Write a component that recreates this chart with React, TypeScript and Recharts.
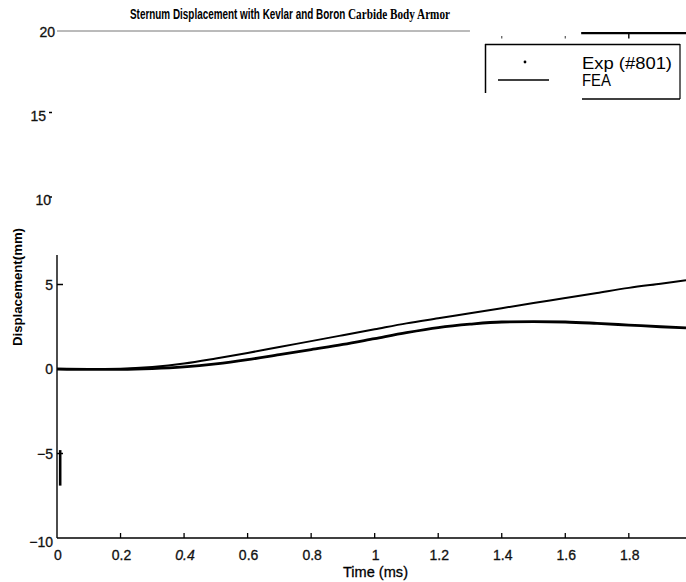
import React from 'react';
import { LineChart, Line, XAxis, YAxis, ReferenceLine, Legend } from 'recharts';

const times = [0, 0.1, 0.2, 0.3, 0.4, 0.5, 0.6, 0.7, 0.8, 0.9, 1.0, 1.1, 1.2, 1.3, 1.4, 1.5, 1.6, 1.7, 1.8, 1.9, 1.98];
const expValues = [0, -0.02, -0.02, 0.02, 0.12, 0.3, 0.55, 0.85, 1.15, 1.45, 1.8, 2.15, 2.45, 2.65, 2.78, 2.8, 2.78, 2.7, 2.6, 2.5, 2.43];
const feaValues = [0, 0, 0.02, 0.12, 0.32, 0.62, 0.95, 1.3, 1.65, 2.0, 2.35, 2.7, 3.0, 3.3, 3.6, 3.9, 4.2, 4.5, 4.8, 5.05, 5.25];

const xTicks = [0, 0.2, 0.4, 0.6, 0.8, 1, 1.2, 1.4, 1.6, 1.8];
const xTickLabels = ['0', '0.2', '0.4', '0.6', '0.8', '1', '1.2', '1.4', '1.6', '1.8'];
const yTicks = [-10, -5, 0, 5, 10, 15, 20];
const yTickLabels = ['\u221210', '\u22125', '0', '5', '10', '15', '20'];

const seriesNames = ['Exp (#801)', 'FEA'];
const title1 = 'Sternum Displacement with  Kevlar and Boron ';
const title2 = 'Carbide Body Armor';
const xLabel = 'Time (ms)';
const yLabel = 'Displacement(mm)';

const data = times.map((t, i) => ({ t, exp: expValues[i], fea: feaValues[i] }));

const SANS = '"Liberation Sans Narrow", "Liberation Sans", Arial, sans-serif';
const SANS_R = '"Liberation Sans", Arial, sans-serif';
const SERIF = '"Liberation Serif", "Times New Roman", serif';

const XTick = (props: any) => {
  const { x, y, payload } = props;
  const idx = xTicks.indexOf(payload.value);
  const label = idx >= 0 ? xTickLabels[idx] : String(payload.value);
  return (
    <g>
      {payload.value !== 0 && (
        <line x1={x} x2={x} y1={y} y2={y - 5} stroke="#000" strokeWidth={1.3} />
      )}
      <text
        x={x + 1}
        y={y + 22}
        textAnchor="middle"
        fontSize={14}
        fontFamily={SANS_R}
        fontStyle={label === '0.4' ? 'italic' : 'normal'}
        fill="#111"
        stroke="#111"
        strokeWidth={0.3}
      >
        {label}
      </text>
    </g>
  );
};

const YTick = (props: any) => {
  const { x, y, payload } = props;
  const idx = yTicks.indexOf(payload.value);
  const label = idx >= 0 ? yTickLabels[idx] : String(payload.value);
  const v = payload.value;
  const far = v === 10 || v === 15;
  let dy = 5;
  if (v === -10) dy = 9;
  if (v === 20) dy = 6;
  return (
    <g>
      {(v === 5 || v === -5) && (
        <line x1={x} x2={x + 6} y1={y} y2={y} stroke="#000" strokeWidth={1.5} />
      )}
      {far && <line x1={x - 8} x2={x - 5} y1={y - 3} y2={y - 3} stroke="#000" strokeWidth={1.5} />}
      <text
        x={far ? (v === 15 ? x - 11 : x - 6) : v === 20 ? x - 2 : x - 4}
        y={y + dy}
        textAnchor="end"
        fontSize={14}
        fontFamily={SANS_R}
        fill="#111"
        stroke="#111"
        strokeWidth={0.3}
      >
        {label}
      </text>
    </g>
  );
};

const LegendBox = () => (
  <svg width={200} height={60} style={{ display: 'block', overflow: 'visible' }}>
    <line x1={0.5} y1={0} x2={0.5} y2={49} stroke="#000" strokeWidth={1.5} />
    <line x1={0} y1={0.5} x2={195} y2={0.5} stroke="#000" strokeWidth={1.5} />
    <line x1={195} y1={0} x2={195} y2={55} stroke="#000" strokeWidth={1.2} />
    <line x1={97} y1={55} x2={195} y2={55} stroke="#000" strokeWidth={1.5} />
    <circle cx={40} cy={18} r={1.4} fill="#000" />
    <line x1={13} y1={36} x2={64} y2={36} stroke="#000" strokeWidth={1.6} />
    <text x={97} y={25} fontSize={16} fontFamily={SANS_R} fill="#000" textLength={90} lengthAdjust="spacingAndGlyphs">
      {seriesNames[0]}
    </text>
    <text x={97} y={42} fontSize={16} fontFamily={SANS_R} fill="#000" textLength={29} lengthAdjust="spacingAndGlyphs">
      {seriesNames[1]}
    </text>
  </svg>
);

export default function App() {
  return (
    <div style={{ position: 'absolute', left: 0, top: 0, width: 686, height: 582, background: '#fff' }}>
      <LineChart
        width={686}
        height={582}
        data={data}
        margin={{ top: 31, right: 0, bottom: 4, left: 0 }}
      >
        <XAxis
          dataKey="t"
          type="number"
          domain={[0, 1.98]}
          ticks={xTicks}
          allowDataOverflow
          height={40}
          tickSize={0}
          tickMargin={0}
          tickLine={false}
          axisLine={{ stroke: '#000', strokeWidth: 1.6 }}
          tick={<XTick />}
          interval={0}
        />
        <YAxis
          type="number"
          domain={[-10, 20]}
          ticks={yTicks}
          allowDataOverflow
          width={57}
          tickSize={0}
          tickMargin={0}
          tickLine={false}
          axisLine={false}
          tick={<YTick />}
          interval={0}
        />
        <ReferenceLine segment={[{ x: 0, y: -10 }, { x: 0, y: 6.75 }]} stroke="#000" strokeWidth={1.4} ifOverflow="visible" />
        <ReferenceLine segment={[{ x: 0.01, y: -4.8 }, { x: 0.01, y: -6.9 }]} stroke="#000" strokeWidth={2.6} ifOverflow="visible" />
        <ReferenceLine segment={[{ x: 0, y: 20 }, { x: 1.3, y: 20 }]} stroke="#777" strokeWidth={1} ifOverflow="visible" />
        <ReferenceLine segment={[{ x: 1.65, y: 19.88 }, { x: 1.98, y: 19.88 }]} stroke="#000" strokeWidth={2.2} ifOverflow="visible" />
        <ReferenceLine segment={[{ x: 1.8, y: 19.88 }, { x: 1.8, y: 19.55 }]} stroke="#000" strokeWidth={1.4} ifOverflow="visible" />
        <ReferenceLine segment={[{ x: 1.4, y: 19.7 }, { x: 1.4, y: 19.55 }]} stroke="#555" strokeWidth={1.2} ifOverflow="visible" />
        <ReferenceLine segment={[{ x: 1.6, y: 19.7 }, { x: 1.6, y: 19.55 }]} stroke="#555" strokeWidth={1.2} ifOverflow="visible" />
        <Legend
          layout="horizontal"
          verticalAlign="middle"
          align="center"
          wrapperStyle={{ position: 'absolute', left: 485, top: 44, width: 200, height: 60 }}
          content={() => <LegendBox />}
        />
        <Line
          type="monotone"
          dataKey="exp"
          name={seriesNames[0]}
          stroke="#000"
          strokeWidth={2.8}
          dot={false}
          isAnimationActive={false}
        />
        <Line
          type="monotone"
          dataKey="fea"
          name={seriesNames[1]}
          stroke="#000"
          strokeWidth={2}
          dot={false}
          isAnimationActive={false}
        />
      </LineChart>
      <svg
        width={686}
        height={582}
        style={{ position: 'absolute', left: 0, top: 0, pointerEvents: 'none' }}
      >
        <text x={130} y={19} fontWeight="bold" fill="#000">
          <tspan fontSize={15} fontFamily={SANS} textLength={218} lengthAdjust="spacingAndGlyphs">
            {title1}
          </tspan>
          <tspan fontSize={15} fontFamily={SERIF} textLength={102} lengthAdjust="spacingAndGlyphs">
            {title2}
          </tspan>
        </text>
        <text x={343} y={577} fontSize={15} fontFamily={SANS} fill="#000" stroke="#000" strokeWidth={0.3} textLength={65} lengthAdjust="spacingAndGlyphs">
          {xLabel}
        </text>
        <g transform="translate(22,287) rotate(-90)">
          <text x={0} y={0} textAnchor="middle" fontSize={13} fontWeight="bold" fontFamily={SANS} fill="#000" textLength={118} lengthAdjust="spacingAndGlyphs">
            {yLabel}
          </text>
        </g>
      </svg>
    </div>
  );
}
